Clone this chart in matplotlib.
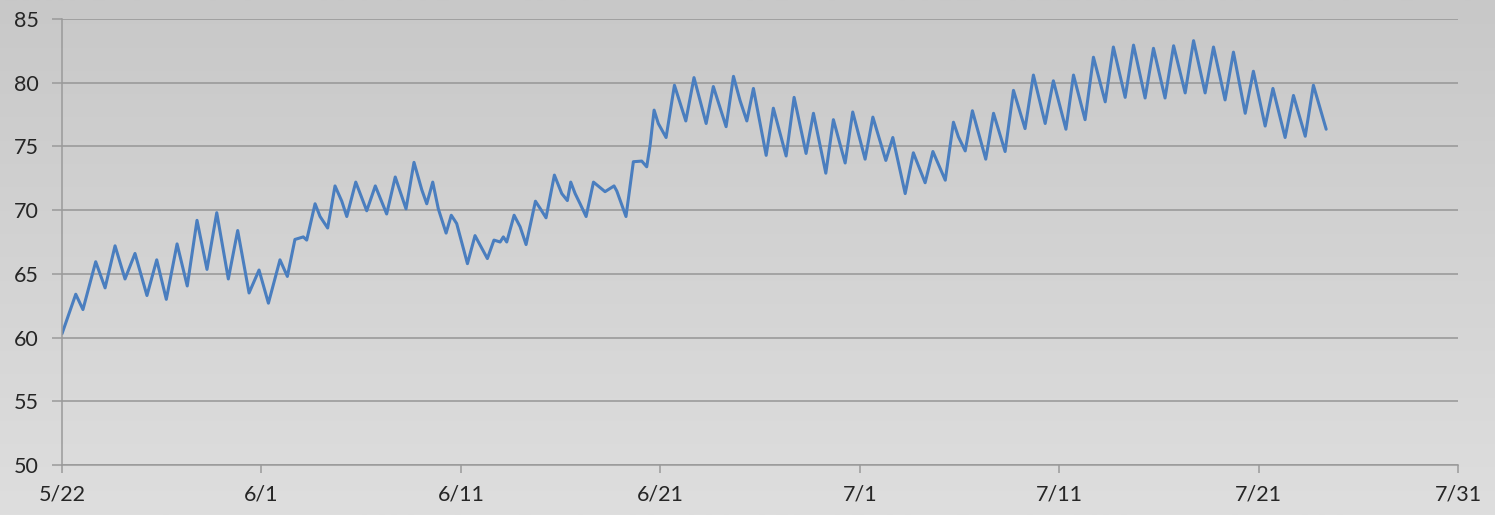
import numpy as np
import matplotlib
matplotlib.use("Agg")
import matplotlib.pyplot as plt
from matplotlib.colors import LinearSegmentedColormap

# Day offsets from 5/22 and temperature values at turning points
days = [0.0, 0.69, 1.05, 1.69, 2.16, 2.66, 3.16, 3.66, 4.26, 4.75, 5.23, 5.77, 6.28, 6.77,
        7.27, 7.76, 8.34, 8.81, 9.38, 9.88, 10.35, 10.93, 11.3, 11.68, 12.1, 12.27, 12.69,
        12.94, 13.32, 13.69, 14.03, 14.28, 14.73, 15.28, 15.71, 16.28, 16.71, 17.25, 17.65,
        18.04, 18.29, 18.59, 18.87, 19.26, 19.52, 19.79, 20.33, 20.71, 21.33, 21.66, 21.97,
        22.13, 22.3, 22.67, 22.97, 23.27, 23.74, 23.97, 24.27, 24.69, 25.06, 25.34, 25.51,
        25.73, 25.98, 26.28, 26.65, 27.23, 27.48, 27.68, 27.82, 28.28, 28.65, 29.07, 29.32,
        29.49, 29.69, 29.9, 30.29, 30.71, 31.28, 31.69, 32.3, 32.66, 33.3, 33.67, 34.0,
        34.34, 34.67, 35.31, 35.67, 36.31, 36.71, 37.31, 37.68, 38.3, 38.68, 39.27, 39.65,
        40.27, 40.66, 41.31, 41.66, 42.28, 42.69, 43.28, 43.67, 44.29, 44.7, 44.95, 45.29,
        45.65, 46.32, 46.71, 47.29, 47.71, 48.29, 48.71, 49.3, 49.71, 50.34, 50.72, 51.3,
        51.72, 52.31, 52.72, 53.31, 53.73, 54.31, 54.73, 55.31, 55.74, 56.32, 56.74, 57.32,
        57.74, 58.32, 58.74, 59.33, 59.74, 60.33, 60.72, 61.33, 61.75, 62.34, 62.75, 63.39]
temps = [60.3, 63.4, 62.2, 65.95, 63.9, 67.2, 64.6, 66.6, 63.3, 66.1, 63.0, 67.35, 64.05, 69.2,
         65.35, 69.8, 64.6, 68.4, 63.5, 65.3, 62.7, 66.1, 64.8, 67.7, 67.9, 67.65, 70.5,
         69.5, 68.6, 71.9, 70.7, 69.5, 72.2, 69.95, 71.9, 69.7, 72.6, 70.1, 73.75,
         71.6, 70.5, 72.2, 70.1, 68.2, 69.6, 68.95, 65.8, 68.0, 66.2, 67.65, 67.5,
         67.9, 67.5, 69.6, 68.7, 67.3, 70.7, 70.15, 69.4, 72.75, 71.3, 70.75, 72.2,
         71.3, 70.5, 69.5, 72.2, 71.45, 71.7, 71.9, 71.5, 69.5, 73.8, 73.85, 73.4,
         75.1, 77.85, 76.8, 75.7, 79.8, 77.0, 80.4, 76.8, 79.7, 76.55, 80.5, 78.6,
         77.0, 79.55, 74.3, 78.0, 74.25, 78.85, 74.45, 77.6, 72.9, 77.1, 73.7, 77.7,
         74.0, 77.3, 73.9, 75.7, 71.3, 74.5, 72.15, 74.6, 72.35, 76.9, 75.75, 74.65,
         77.8, 74.0, 77.6, 74.6, 79.4, 76.4, 80.6, 76.8, 80.15, 76.35, 80.6, 77.1,
         82.0, 78.5, 82.8, 78.85, 82.95, 78.8, 82.7, 78.8, 82.9, 79.2, 83.3, 79.2,
         82.8, 78.65, 82.4, 77.6, 80.9, 76.6, 79.55, 75.7, 79.0, 75.8, 79.8, 76.35]

x_ticks = [0, 10, 20, 30, 40, 50, 60, 70]
x_labels = ["5/22", "6/1", "6/11", "6/21", "7/1", "7/11", "7/21", "7/31"]
y_ticks = [50, 55, 60, 65, 70, 75, 80, 85]

plt.rcParams['font.family'] = ['Lato', 'DejaVu Sans']

fig = plt.figure(figsize=(14.95, 5.15), dpi=100)

# gradient background
bg = fig.add_axes([0, 0, 1, 1], zorder=-10)
grad = np.linspace(0, 1, 256).reshape(-1, 1)
cmap = LinearSegmentedColormap.from_list("g", ["#c8c8c8", "#dedede"])
bg.imshow(grad, aspect="auto", cmap=cmap, extent=[0, 1, 0, 1], origin="upper")
bg.axis("off")

ax = fig.add_axes([62/1495, 1-465/515, (1458-62)/1495, (465-19)/515])
ax.set_facecolor("none")
ax.plot(days, temps, color="#4a7ebf", lw=2.2, solid_joinstyle="round",
        solid_capstyle="round")

ax.set_xlim(0, 70)
ax.set_ylim(50, 85)
ax.set_xticks(x_ticks)
ax.set_xticklabels(x_labels)
ax.set_yticks(y_ticks)
ax.grid(axis="y", color="#969696", lw=1.1)
ax.set_axisbelow(True)
for s in ["top", "right"]:
    ax.spines[s].set_visible(False)
for s in ["left", "bottom"]:
    ax.spines[s].set_color("#9a9a9a")
    ax.spines[s].set_linewidth(1.1)
ax.tick_params(axis="x", direction="out", length=6, width=1.1, color="#9a9a9a",
               labelsize=15.5, labelcolor="#262626", pad=8)
ax.tick_params(axis="y", direction="out", length=7, width=1.1, color="#9a9a9a",
               labelsize=15.5, labelcolor="#262626", pad=10)

fig.savefig("out.png", dpi=100)
